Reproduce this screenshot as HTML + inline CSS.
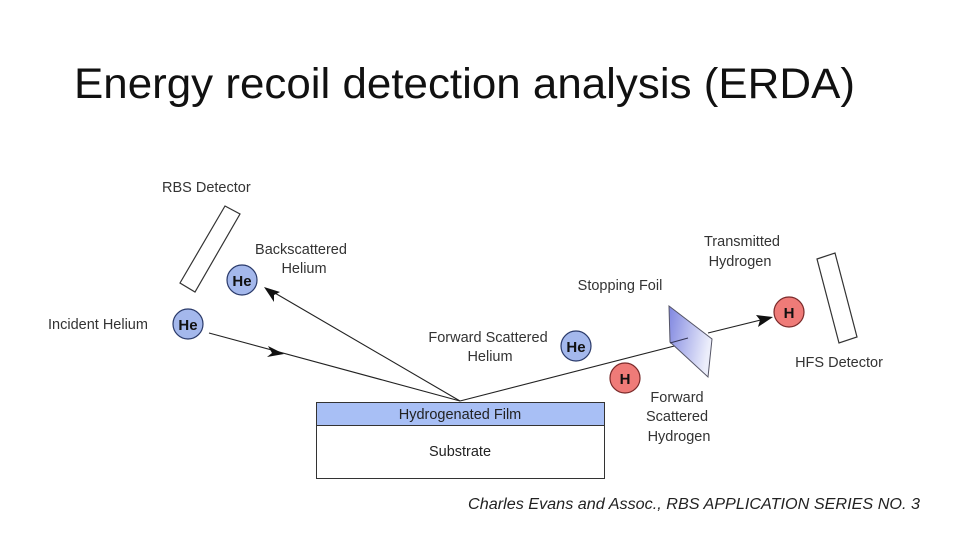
<!DOCTYPE html>
<html><head><meta charset="utf-8"><style>
html,body{margin:0;padding:0;background:#fff}
svg{display:block}
text{font-family:"Liberation Sans",Arial,sans-serif}
</style></head><body>
<svg width="960" height="540" viewBox="0 0 960 540" xmlns="http://www.w3.org/2000/svg">
<defs>
<linearGradient id="foil" x1="0" y1="0" x2="1" y2="0.3">
<stop offset="0" stop-color="#7f86e0"/><stop offset="1" stop-color="#eceefb"/>
</linearGradient>
</defs>
<text x="74" y="98" font-size="43" fill="#111" textLength="781" lengthAdjust="spacingAndGlyphs">Energy recoil detection analysis (ERDA)</text>
<g font-size="14.5" fill="#333">
<text x="162" y="192">RBS Detector</text>
<text x="301" y="254" text-anchor="middle">Backscattered</text>
<text x="304" y="273" text-anchor="middle">Helium</text>
<text x="48" y="329">Incident Helium</text>
<text x="488" y="342" text-anchor="middle">Forward Scattered</text>
<text x="490" y="361" text-anchor="middle">Helium</text>
<text x="620" y="290" text-anchor="middle">Stopping Foil</text>
<text x="742" y="246" text-anchor="middle">Transmitted</text>
<text x="740" y="266" text-anchor="middle">Hydrogen</text>
<text x="839" y="367" text-anchor="middle">HFS Detector</text>
<text x="677" y="402" text-anchor="middle">Forward</text>
<text x="677" y="421" text-anchor="middle">Scattered</text>
<text x="679" y="441" text-anchor="middle">Hydrogen</text>
</g>
<polygon points="225,206 240,214 195,292 180,283" fill="#fff" stroke="#333" stroke-width="1.2"/>
<polygon points="817,259 835,253 857,337 839,343" fill="#fff" stroke="#333" stroke-width="1.2"/>
<g stroke="#222" stroke-width="1.1" fill="none">
<line x1="209" y1="333" x2="460" y2="401"/>
<line x1="460" y1="401" x2="268" y2="289"/>
<line x1="460" y1="401" x2="690" y2="342"/>
<line x1="708" y1="333" x2="765" y2="319"/>
</g>
<polygon points="669,306 712,339 708,377 670,342" fill="url(#foil)" stroke="#556" stroke-width="1"/>
<line x1="670" y1="343" x2="688" y2="338" stroke="#335" stroke-width="1"/>
<polygon points="284,354 268,346 272,353 267,357" fill="#111"/>
<polygon points="264,287 280,292 274,295 274,302" fill="#111"/>
<polygon points="773,317 756,315 760,320 758,327" fill="#111"/>
<rect x="316.5" y="402.5" width="288" height="23" fill="#a8bff5" stroke="#333"/>
<rect x="316.5" y="425.5" width="288" height="53" fill="#fff" stroke="#333"/>
<text x="460" y="419" font-size="14.5" fill="#222" text-anchor="middle">Hydrogenated Film</text>
<text x="460" y="456" font-size="14.5" fill="#222" text-anchor="middle">Substrate</text>
<g stroke="#2a3a6a" stroke-width="1.2" fill="#a4b8ec">
<circle cx="242" cy="280" r="15"/>
<circle cx="188" cy="324" r="15"/>
<circle cx="576" cy="346" r="15"/>
</g>
<g stroke="#7a2a2a" stroke-width="1.2" fill="#ef7b78">
<circle cx="625" cy="378" r="15"/>
<circle cx="789" cy="312" r="15"/>
</g>
<g font-size="15" font-weight="bold" fill="#111" text-anchor="middle">
<text x="242" y="286">He</text>
<text x="188" y="330">He</text>
<text x="576" y="352">He</text>
<text x="625" y="384">H</text>
<text x="789" y="318">H</text>
</g>
<text x="468" y="509" font-size="15.5" font-style="italic" fill="#222" textLength="452" lengthAdjust="spacingAndGlyphs">Charles Evans and Assoc., RBS APPLICATION SERIES NO. 3</text>
</svg>
</body></html>
